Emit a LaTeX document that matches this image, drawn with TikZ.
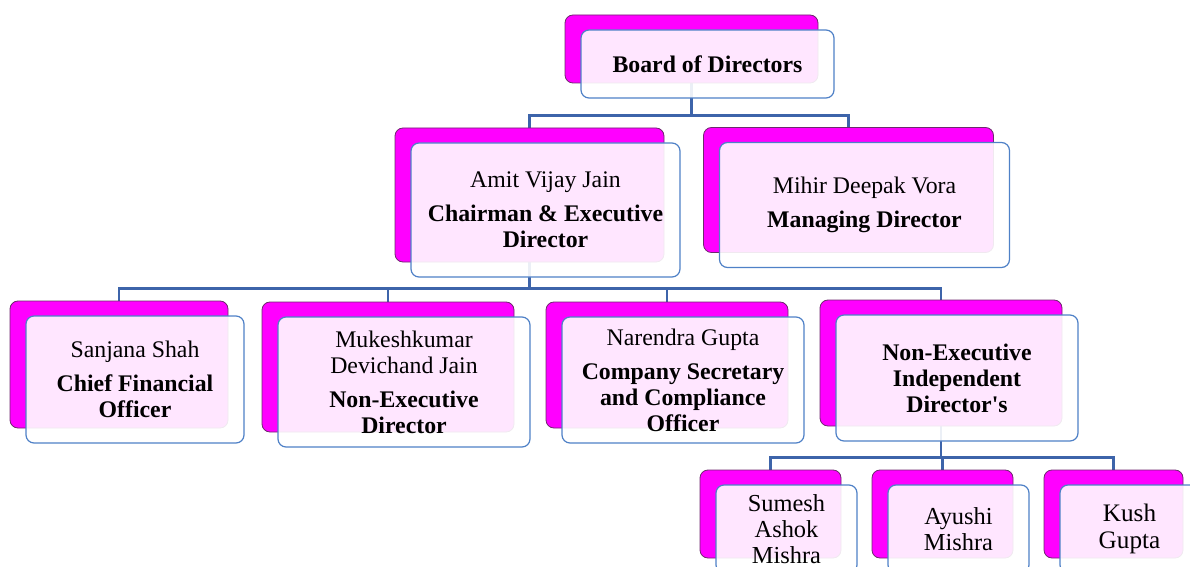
\documentclass[tikz,border=0pt]{standalone}
\usepackage{fontspec}
\setmainfont{Liberation Serif}[Ligatures=TeXOff]
\usepackage{tikz}
\usetikzlibrary{backgrounds}
\definecolor{boxmag}{RGB}{255,0,255}
\definecolor{boxedge}{RGB}{110,40,110}
\definecolor{frontedge}{RGB}{79,129,199}
\definecolor{linkblue}{RGB}{61,100,170}

\begin{document}
\begin{tikzpicture}[x=0.5pt, y=-0.5pt,
        boxsize/.style 2 args={minimum width=#1, minimum height=#2},
        back/.style={rectangle, rounded corners=4pt, fill=boxmag, draw=boxedge, line width=0.4pt, inner sep=0pt},
        front/.style={rectangle, rounded corners=4pt, fill=white, fill opacity=0.9, text opacity=1, draw=frontedge, line width=0.6pt, inner sep=0pt, align=center, font=\fontsize{11.9}{13}\selectfont},
        link/.style={draw=linkblue, line width=1.2pt}]
        \useasboundingbox (0,0) rectangle (1190,567);
        \node[back, boxsize={126.5pt}{34pt}] (boardB) at (691.5,49) {};
        \node[front, boxsize={126.5pt}{34pt}] (board) at (707.5,64) {\textbf{Board of Directors}};
        \node[back, boxsize={134.5pt}{67pt}] (amitB) at (529.5,195) {};
        \node[front, boxsize={134.5pt}{67pt}] (amit) at (545.5,210) {Amit Vijay Jain\\[4pt]\textbf{Chairman \& Executive}\\\textbf{Director}};
        \node[back, boxsize={145pt}{62.5pt}] (mihirB) at (848.5,190) {};
        \node[front, boxsize={145pt}{62.5pt}] (mihir) at (864.5,205) {Mihir Deepak Vora\\[4pt]\textbf{Managing Director}};
        \node[back, boxsize={109pt}{63.5pt}] (sanjanaB) at (119,364.5) {};
        \node[front, boxsize={109pt}{63.5pt}] (sanjana) at (135,379.5) {Sanjana Shah\\[4pt]\textbf{Chief Financial}\\\textbf{Officer}};
        \node[back, boxsize={126pt}{65pt}] (mukeshB) at (388,367) {};
        \node[front, boxsize={126pt}{65pt}] (mukesh) at (404,382) {Mukeshkumar\\Devichand Jain\\[4pt]\textbf{Non-Executive}\\\textbf{Director}};
        \node[back, boxsize={121pt}{63pt}] (narendraB) at (667,365) {};
        \node[front, boxsize={121pt}{63pt}] (narendra) at (683,380) {Narendra Gupta\\[4pt]\textbf{Company Secretary}\\\textbf{and Compliance}\\\textbf{Officer}};
        \node[back, boxsize={121pt}{63pt}] (nonexecB) at (941,363) {};
        \node[front, boxsize={121pt}{63pt}] (nonexec) at (957,378) {\textbf{Non-Executive}\\\textbf{Independent}\\\textbf{Director's}};
        \node[back, boxsize={70.5pt}{44pt}] (sumeshB) at (770.5,514) {};
        \node[front, boxsize={70.5pt}{44pt}, font=\fontsize{12.2}{13}\selectfont] (sumesh) at (786.5,529) {Sumesh\\Ashok\\Mishra};
        \node[back, boxsize={70.5pt}{44pt}] (ayushiB) at (942.5,514) {};
        \node[front, boxsize={70.5pt}{44pt}, font=\fontsize{12.2}{13}\selectfont] (ayushi) at (958.5,529) {Ayushi\\Mishra};
        \node[back, boxsize={69.5pt}{44pt}] (kushB) at (1113.5,514) {};
        \node[front, boxsize={69.5pt}{44pt}, font=\fontsize{12.6}{13.5}\selectfont] (kush) at (1129.5,529) {Kush\\Gupta};
        \begin{scope}[on background layer]
            \foreach \k in {amitB, mihirB} \draw[link] (boardB.south) -- ++(0,32) -| (\k.north);
            \foreach \k in {sanjanaB, mukeshB, narendraB, nonexecB} \draw[link] (amitB.south) -- ++(0,26) -| (\k.north);
            \foreach \k in {sumeshB, ayushiB, kushB} \draw[link] (nonexecB.south) -- ++(0,31) -| (\k.north);
        \end{scope}
    \end{tikzpicture}
\end{document}
